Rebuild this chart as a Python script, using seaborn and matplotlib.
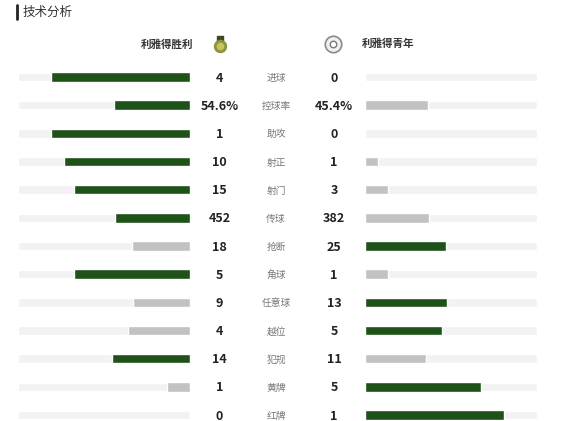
import matplotlib
matplotlib.use('Agg')
import matplotlib.pyplot as plt
import seaborn as sns
import numpy as np

sns.set_theme(style='white')
plt.rcParams['font.family'] = ['Noto Sans CJK SC', 'DejaVu Sans']

# Match stats (home: 利雅得胜利, away: 利雅得青年)
stats = ['进球', '控球率', '助攻', '射正', '射门', '传球', '抢断', '角球',
         '任意球', '越位', '犯规', '黄牌', '红牌']
home = [4, 54.6, 1, 10, 15, 452, 18, 5, 9, 4, 14, 1, 0]
away = [0, 45.4, 0, 1, 3, 382, 25, 1, 13, 5, 11, 5, 1]
home_text = ['4', '54.6%', '1', '10', '15', '452', '18', '5', '9', '4', '14', '1', '0']
away_text = ['0', '45.4%', '0', '1', '3', '382', '25', '1', '13', '5', '11', '5', '1']
home_team = '利雅得胜利'
away_team = '利雅得青年'

GREEN = '#1e5218'
GREY = '#c2c2c2'
TRACK = '#f2f2f2'

W, H = 586, 421
row0, step = 77, 28.17
track_len = 172 / 139  # track is longer than the full bar

home_share = [h / (h + a) for h, a in zip(home, away)]
away_share = [a / (h + a) for h, a in zip(home, away)]
home_col = [GREEN if h > a else GREY for h, a in zip(home, away)]
away_col = [GREEN if a > h else GREY for h, a in zip(home, away)]

fig = plt.figure(figsize=(W / 100, H / 100), dpi=100)

top = row0 - step / 2
ax_h = (H - top) / H
ylim = (len(stats) - 1 + (H - (row0 + step * (len(stats) - 1))) / step, -0.5)

axL = fig.add_axes([18 / W, 0, 172 / W, ax_h])
axR = fig.add_axes([365 / W, 0, 172 / W, ax_h])

for ax, share, cols in [(axL, home_share, home_col), (axR, away_share, away_col)]:
    sns.barplot(x=[track_len] * len(stats), y=stats, color=TRACK, width=0.3,
                ax=ax, saturation=1)
    sns.barplot(x=share, y=stats, hue=stats, palette=cols, width=0.34,
                ax=ax, saturation=1, legend=False)
    ax.set_ylim(*ylim)
    ax.axis('off')
axL.set_xlim(track_len, 0)
axR.set_xlim(0, track_len)

# overlay for text, in pixel coordinates
ov = fig.add_axes([0, 0, 1, 1])
ov.set_xlim(0, W)
ov.set_ylim(H, 0)
ov.axis('off')

ov.plot([17, 17], [5, 19], color='#222222', lw=2)
ov.text(23, 12, '技术分析', fontsize=9, color='#333333', va='center')

ov.text(193, 44, home_team, fontsize=7.6, color='#333333', ha='right',
        va='center', fontweight='bold')
ov.text(362, 44, away_team, fontsize=7.6, color='#333333', ha='left',
        va='center', fontweight='bold')
ov.scatter([220], [39], s=22, marker='s', color='#3d4a1e', zorder=3)
ov.scatter([220], [46], s=75, marker='o', color='#8f9440', zorder=3)
ov.scatter([220], [46], s=20, marker='o', color='#c9c45a', zorder=4)
ov.scatter([333], [44], s=140, marker='o', facecolor='#f0f0f0',
           edgecolor='#8a8a8a', linewidth=1.2, zorder=3)
ov.scatter([333], [44], s=22, marker='o', facecolor='white',
           edgecolor='#777777', linewidth=1, zorder=4)

for i, s in enumerate(stats):
    y = row0 + i * step
    ov.text(219.5, y + 1, home_text[i], fontsize=9, fontweight='bold',
            color='#222222', ha='center', va='center')
    ov.text(276, y + 1, s, fontsize=7, color='#777777', ha='center', va='center')
    ov.text(334, y + 1, away_text[i], fontsize=9, fontweight='bold',
            color='#222222', ha='center', va='center')

fig.savefig('out.png', dpi=100, facecolor='white')
